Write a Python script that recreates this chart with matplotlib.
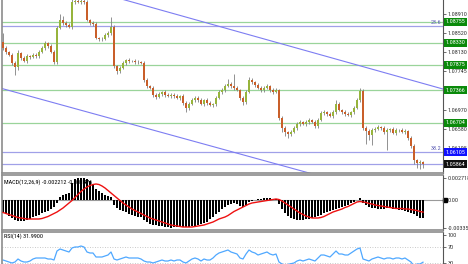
import matplotlib
matplotlib.use("Agg")
import matplotlib.pyplot as plt
import numpy as np

plt.rcParams["font.family"] = ["Roboto Condensed", "DejaVu Sans"]

# one candle per bar, open = previous close
first_open = 1.08341
closes = [
    1.08220, 1.08138, 1.08078, 1.07915, 1.07834, 1.08118, 1.08017, 1.07956, 1.08057, 1.08037,
    1.08078, 1.08057, 1.08138, 1.08220, 1.08321, 1.08260, 1.08138, 1.07935, 1.08626, 1.08788,
    1.08727, 1.08687, 1.08646, 1.09153, 1.09174, 1.09153, 1.09174, 1.09153, 1.08788, 1.08727,
    1.08707, 1.08423, 1.08402, 1.08402, 1.08484, 1.08524, 1.08646, 1.07854, 1.07753, 1.07814,
    1.07915, 1.07976, 1.07956, 1.07956, 1.07935, 1.07935, 1.07915, 1.07570, 1.07448, 1.07408,
    1.07266, 1.07225, 1.07286, 1.07326, 1.07266, 1.07245, 1.07266, 1.07245, 1.07205, 1.07245,
    1.07103, 1.07002, 1.07083, 1.07164, 1.07205, 1.07164, 1.07083, 1.07164, 1.07103, 1.07063,
    1.07083, 1.07205, 1.07326, 1.07367, 1.07448, 1.07489, 1.07448, 1.07408, 1.07367, 1.07205,
    1.07123, 1.07326, 1.07570, 1.07529, 1.07469, 1.07408, 1.07367, 1.07408, 1.07448, 1.07367,
    1.07326, 1.07367, 1.06799, 1.06596, 1.06514, 1.06474, 1.06514, 1.06596, 1.06677, 1.06717,
    1.06677, 1.06717, 1.06758, 1.06717, 1.06636, 1.06758, 1.06900, 1.06920, 1.06880, 1.06839,
    1.06920, 1.07083, 1.06961, 1.06920, 1.06880, 1.06860, 1.06920, 1.07002, 1.07164, 1.07347,
    1.06596, 1.06535, 1.06454, 1.06555, 1.06575, 1.06616, 1.06596, 1.06514, 1.06555, 1.06575,
    1.06494, 1.06555, 1.06555, 1.06514, 1.06535, 1.06393, 1.06230, 1.05946, 1.05885, 1.05905,
    1.05864,
]
# wick lengths in pips above / below the body
wick_up = [
    18, 4, 3, 4, 5, 6, 3, 4, 4, 3,
    4, 3, 5, 4, 4, 3, 4, 4, 4, 12,
    8, 4, 3, 6, 6, 6, 6, 6, 4, 3,
    4, 4, 3, 4, 4, 5, 20, 4, 3, 4,
    4, 3, 4, 3, 4, 4, 3, 4, 4, 3,
    4, 5, 4, 3, 4, 4, 3, 4, 4, 3,
    4, 4, 5, 4, 3, 4, 4, 3, 4, 4,
    3, 4, 4, 5, 4, 10, 4, 24, 4, 3,
    4, 4, 6, 4, 3, 4, 4, 5, 4, 3,
    4, 4, 3, 4, 4, 3, 4, 4, 5, 4,
    3, 4, 4, 3, 4, 4, 5, 4, 3, 4,
    4, 8, 4, 3, 4, 4, 3, 4, 4, 6,
    4, 3, 4, 4, 5, 4, 3, 4, 4, 3,
    4, 4, 3, 4, 4, 3, 4, 4, 3, 4,
    3,
]
wick_down = [
    4, 4, 3, 4, 16, 6, 4, 3, 4, 4,
    3, 4, 4, 3, 4, 4, 3, 4, 4, 3,
    4, 4, 3, 4, 4, 3, 4, 4, 3, 4,
    4, 3, 4, 4, 3, 4, 4, 4, 6, 4,
    3, 4, 4, 3, 4, 4, 3, 4, 4, 3,
    4, 4, 3, 4, 4, 3, 4, 4, 3, 4,
    4, 8, 4, 3, 4, 4, 3, 4, 4, 3,
    4, 4, 3, 4, 4, 3, 4, 4, 3, 4,
    6, 4, 3, 4, 4, 3, 4, 4, 3, 4,
    4, 3, 4, 8, 8, 8, 4, 3, 4, 4,
    3, 4, 4, 3, 4, 4, 3, 4, 4, 3,
    4, 4, 3, 4, 4, 3, 4, 4, 3, 4,
    4, 26, 10, 20, 4, 3, 4, 4, 36, 4,
    3, 4, 4, 3, 4, 4, 4, 8, 10, 12,
    8,
]

macd_main = [
    -0.00146, -0.00171, -0.00195, -0.00220, -0.00244, -0.00256, -0.00256, -0.00256, -0.00244, -0.00232,
    -0.00207, -0.00195, -0.00183, -0.00159, -0.00146, -0.00134, -0.00110, -0.00085, -0.00037, 0.00037,
    0.00061, 0.00073, 0.00085, 0.00207, 0.00256, 0.00268, 0.002718, 0.00270, 0.00256, 0.00232,
    0.00195, 0.00134, 0.00110, 0.00085, 0.00061, 0.00049, 0.00037, -0.00061, -0.00098, -0.00122,
    -0.00134, -0.00146, -0.00171, -0.00183, -0.00195, -0.00207, -0.00207, -0.00244, -0.00268, -0.00293,
    -0.00305, -0.00305, -0.00317, -0.00317, -0.00325, -0.00330, -0.003358, -0.00333, -0.00329, -0.00327,
    -0.00329, -0.00333, -0.00330, -0.00317, -0.00314, -0.00305, -0.00293, -0.00281, -0.00268, -0.00232,
    -0.00207, -0.00171, -0.00146, -0.00110, -0.00085, -0.00061, -0.00049, -0.00037, -0.00049, -0.00073,
    -0.00085, -0.00061, -0.00024, -0.00012, 0.00002, 0.00012, 0.00012, 0.00024, 0.00024, 0.00024,
    0.00012, 0.00010, -0.00049, -0.00110, -0.00159, -0.00195, -0.00220, -0.00232, -0.00244, -0.00244,
    -0.00244, -0.00232, -0.00232, -0.00220, -0.00207, -0.00195, -0.00183, -0.00159, -0.00146, -0.00134,
    -0.00122, -0.00110, -0.00098, -0.00085, -0.00073, -0.00061, -0.00037, -0.00024, 0.00000, 0.00024,
    -0.00037, -0.00061, -0.00085, -0.00098, -0.00098, -0.00110, -0.00110, -0.00110, -0.00098, -0.00098,
    -0.00110, -0.00110, -0.00122, -0.00122, -0.00134, -0.00146, -0.00159, -0.00171, -0.00195, -0.00215,
    -0.002212,
]
macd_signal = [
    -0.001525, -0.001647, -0.001769, -0.001891, -0.002013, -0.002135, -0.002196, -0.002257, -0.002318, -0.002318,
    -0.002318, -0.002318, -0.002318, -0.002257, -0.002135, -0.002013, -0.001830, -0.001647, -0.001464, -0.001220,
    -0.000976, -0.000671, -0.000366, -0.000061, 0.000305, 0.000671, 0.001037, 0.001342, 0.001586, 0.001769,
    0.001891, 0.001952, 0.001891, 0.001708, 0.001464, 0.001159, 0.000854, 0.000549, 0.000244, -0.000061,
    -0.000366, -0.000610, -0.000854, -0.001098, -0.001281, -0.001464, -0.001647, -0.001830, -0.002013, -0.002196,
    -0.002318, -0.002440, -0.002562, -0.002684, -0.002806, -0.002928, -0.003050, -0.003111, -0.003172, -0.003233,
    -0.003294, -0.003294, -0.003294, -0.003294, -0.003233, -0.003172, -0.003111, -0.003050, -0.002928, -0.002806,
    -0.002684, -0.002501, -0.002318, -0.002196, -0.002074, -0.001891, -0.001647, -0.001403, -0.001220, -0.001037,
    -0.000854, -0.000671, -0.000488, -0.000366, -0.000305, -0.000244, -0.000183, -0.000122, -0.000061, 0.000000,
    0.000061, 0.000122, 0.000061, -0.000122, -0.000366, -0.000610, -0.000854, -0.001098, -0.001342, -0.001586,
    -0.001769, -0.001952, -0.002074, -0.002196, -0.002196, -0.002196, -0.002135, -0.002013, -0.001830, -0.001647,
    -0.001464, -0.001342, -0.001220, -0.001098, -0.000915, -0.000793, -0.000610, -0.000427, -0.000244, -0.000183,
    -0.000244, -0.000305, -0.000427, -0.000488, -0.000610, -0.000671, -0.000732, -0.000793, -0.000854, -0.000915,
    -0.000976, -0.001037, -0.001037, -0.001037, -0.001098, -0.001098, -0.001159, -0.001220, -0.001281, -0.001403,
    -0.001476,
]
rsi_values = [
    37.5, 35.0, 32.5, 30.0, 32.5, 40.0, 35.0, 32.5, 32.5, 35.0,
    40.0, 42.5, 42.5, 42.5, 42.5, 40.0, 40.0, 37.5, 60.0, 65.0,
    62.5, 60.0, 57.5, 67.5, 70.0, 70.0, 72.5, 70.0, 57.5, 55.0,
    55.0, 45.0, 45.0, 45.0, 47.5, 50.0, 57.5, 40.0, 37.5, 40.0,
    42.5, 45.0, 42.5, 42.5, 42.5, 42.5, 40.0, 35.0, 32.5, 32.5,
    30.0, 32.5, 35.0, 37.5, 35.0, 35.0, 37.5, 35.0, 37.5, 37.5,
    32.5, 30.0, 35.0, 40.0, 42.5, 40.0, 35.0, 40.0, 37.5, 37.5,
    42.5, 50.0, 55.0, 57.5, 60.0, 62.5, 57.5, 55.0, 52.5, 42.5,
    40.0, 52.5, 62.5, 57.5, 55.0, 50.0, 52.5, 55.0, 57.5, 52.5,
    50.0, 52.5, 32.5, 27.5, 25.0, 22.5, 25.0, 30.0, 35.0, 37.5,
    35.0, 37.5, 40.0, 37.5, 35.0, 42.5, 50.0, 50.0, 47.5, 45.0,
    52.5, 60.0, 52.5, 52.5, 50.0, 50.0, 55.0, 60.0, 65.0, 67.5,
    40.0, 37.5, 35.0, 40.0, 42.5, 45.0, 42.5, 40.0, 42.5, 42.5,
    40.0, 42.5, 42.5, 40.0, 42.5, 37.5, 32.5, 22.5, 27.5, 27.5,
    31.99,
]

price_ticks = [1.08910, 1.08520, 1.08130, 1.07745, 1.06970, 1.06580, 1.06195]
green_levels = [1.08755, 1.08330, 1.07875, 1.07366, 1.06704]
blue_levels = [1.08666, 1.06105, 1.05864]
fib_texts = ["23.6", "38.2"]
fib_prices = [1.08666, 1.06105]
channel_upper_x = [0, 147]
channel_upper_y = [1.09887, 1.07381]
channel_lower_x = [-1, 147]
channel_lower_y = [1.07408, 1.04929]
macd_ticks = [0.002718, 0.0, -0.003358]
macd_tick_labels = ["0.002718", "0.00", "-0.003358"]
rsi_ticks = [100, 70, 30]

bull = "#97b43c"
bear = "#c95f2a"
wick = "#808080"
frame = "#8c8c8c"
fs = 4.4

W, H = 468, 264
fig = plt.figure(figsize=(W / 100, H / 100), dpi=100)


def box(top, bottom, left=2, right=443):
    return [left / W, 1 - bottom / H, (right - left) / W, (bottom - top) / H]


ax = fig.add_axes(box(0, 173))
ax2 = fig.add_axes(box(175, 230))
ax3 = fig.add_axes(box(232, 280))

n = len(closes)
idx = np.arange(n)
c = np.array(closes)
o = np.array([first_open] + closes[:-1])
hi = np.maximum(o, c) + np.array(wick_up) * 0.0001
lo = np.minimum(o, c) - np.array(wick_down) * 0.0001
colors = np.where(c >= o, bull, bear)

# price panel
for lvl in green_levels:
    ax.axhline(lvl, color="#9ad49a", lw=0.9, zorder=1)
for lvl in blue_levels:
    ax.axhline(lvl, color="#a0a0e8", lw=0.9, zorder=1)
ax.plot(channel_upper_x, channel_upper_y, color="#7d7df2", lw=0.8, zorder=1)
ax.plot(channel_lower_x, channel_lower_y, color="#7d7df2", lw=0.8, zorder=1)
ax.vlines(idx, lo, hi, color=wick, lw=0.6, zorder=2)
ax.bar(idx, np.maximum(np.abs(c - o), 0.00006), bottom=np.minimum(o, c),
       width=0.62, color=colors, lw=0, zorder=3)

for txt, p in zip(fib_texts, fib_prices):
    ax.text(0.997, p + 0.0002, txt, transform=ax.get_yaxis_transform(),
            ha="right", va="bottom", fontsize=fs, color="#5a5ab4")

ax.set_xlim(-0.333, 146.667)
ax.set_ylim(1.05682, 1.09194)
ax.yaxis.tick_right()
ax.set_yticks(price_ticks)
ax.set_yticklabels([f"{v:.5f}" for v in price_ticks])


def tag(axis, y, text, bg, fg="white"):
    axis.annotate(text, xy=(1, y), xycoords=("axes fraction", "data"),
                  xytext=(2.0, 0), textcoords="offset points", ha="left", va="center",
                  fontsize=fs, color=fg, annotation_clip=False,
                  bbox=dict(boxstyle="square,pad=0.25", fc=bg, ec="none"))


for lvl in green_levels:
    tag(ax, lvl, f"{lvl:.5f}", "#0a8a0a")
tag(ax, blue_levels[1], f"{blue_levels[1]:.5f}", "#1010ff")
tag(ax, blue_levels[2], f"{blue_levels[2]:.5f}", "#111111")

# MACD panel
ax2.axhline(0, color="#9a9a9a", lw=0.8, zorder=1)
ax2.bar(idx, macd_main, width=0.62, color="black", lw=0, zorder=2)
ax2.plot(idx, macd_signal, color="#ee1111", lw=1.0, zorder=3)
ax2.set_xlim(-0.333, 146.667)
ax2.set_ylim(-0.00366, 0.00305)
ax2.yaxis.tick_right()
ax2.set_yticks(macd_ticks)
ax2.set_yticklabels(macd_tick_labels)
ax2.plot([1.004], [0], marker="s", ms=2.5, color="black", transform=ax2.get_yaxis_transform(),
         clip_on=False)
ax2.text(0.005, 0.93, f"MACD(12,26,9) {macd_main[-1]:.6f} {macd_signal[-1]:.6f}",
         transform=ax2.transAxes, ha="left", va="top", fontsize=fs, color="black", zorder=5)

# RSI panel
ax3.axhline(70, color="#b8b8b8", lw=0.6, ls=(0, (1, 2)), zorder=1)
ax3.axhline(30, color="#b8b8b8", lw=0.6, ls=(0, (1, 2)), zorder=1)
ax3.plot(idx, rsi_values, color="#4fa8ff", lw=0.9, zorder=2)
ax3.set_xlim(-0.333, 146.667)
ax3.set_ylim(-12.5, 107.5)
ax3.yaxis.tick_right()
ax3.set_yticks(rsi_ticks)
ax3.set_yticklabels([str(v) for v in rsi_ticks])
ax3.text(0.005, 0.97, f"RSI(14) {rsi_values[-1]:.4f}", transform=ax3.transAxes,
         ha="left", va="top", fontsize=fs, color="black")

for a in (ax, ax2, ax3):
    a.set_xticks([])
    a.tick_params(axis="y", length=2, width=0.5, pad=1.5, labelsize=fs,
                  colors="#333333", direction="out")
    for side, sp in a.spines.items():
        sp.set_color(frame)
        sp.set_linewidth(1.2)
    a.spines["right"].set_color("#555555")
    a.spines["right"].set_linewidth(0.8)
ax.spines["top"].set_visible(False)

fig.savefig("out.png", dpi=100)
